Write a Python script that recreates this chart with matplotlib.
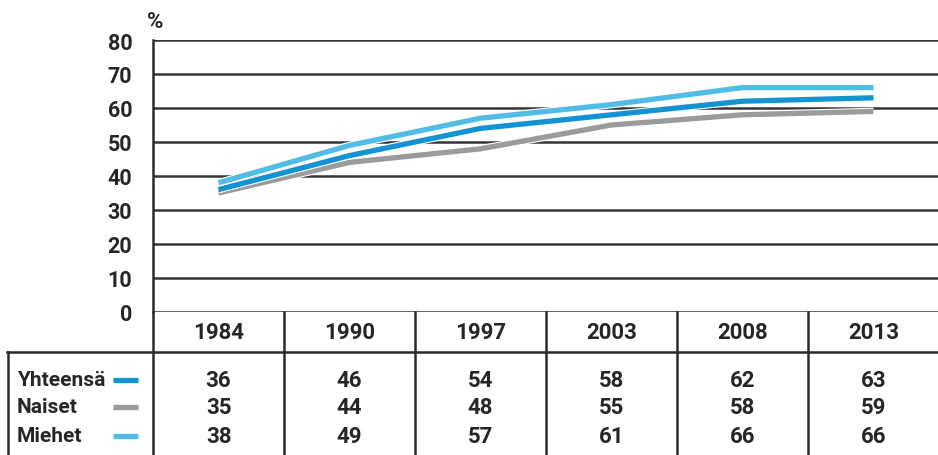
import matplotlib
matplotlib.use("Agg")
import matplotlib.pyplot as plt
import matplotlib.patheffects as pe
import numpy as np

plt.rcParams["font.family"] = ["Roboto", "DejaVu Sans"]

years = ["1984", "1990", "1997", "2003", "2008", "2013"]
series_names = ["Yhteensä", "Naiset", "Miehet"]
yhteensa = [36, 46, 54, 58, 62, 63]
naiset = [35, 44, 48, 55, 58, 59]
miehet = [38, 49, 57, 61, 66, 66]
series_values = [yhteensa, naiset, miehet]
colors = ["#1493d2", "#9b9b9b", "#4fbde6"]
y_ticks = [0, 10, 20, 30, 40, 50, 60, 70, 80]

W, H = 938, 456
fig = plt.figure(figsize=(W / 100, H / 100), dpi=100)
FW = "bold"
TC = "#262626"

# plot area in pixels
left_px, right_px, top_px, bottom_px = 153, 939, 41, 313
ax = fig.add_axes([left_px / W, 1 - bottom_px / H,
                   (right_px - left_px) / W, (bottom_px - top_px) / H])
x = np.arange(len(years))
ax.set_xlim(-0.5, len(years) - 0.5)
ax.set_ylim(0, 80)
ax.set_yticks(y_ticks)
ax.set_yticklabels([str(v) for v in y_ticks], fontsize=15.5, fontweight=FW, color=TC)
ax.tick_params(axis="y", length=0, pad=15)
ax.set_xticks([])
for s in ["top", "right", "bottom"]:
    ax.spines[s].set_visible(False)
ax.spines["left"].set_linewidth(1.8)
ax.spines["left"].set_color("#2a2a2a")
for v in y_ticks:
    ax.axhline(v, color="#353535", lw=1.8, zorder=1)

# draw in order: naiset (back), yhteensa, miehet
for idx in [1, 0, 2]:
    ax.plot(x, series_values[idx], color=colors[idx], lw=3.8, zorder=3,
            solid_capstyle="butt",
            path_effects=[pe.Stroke(linewidth=5.4, foreground="white"), pe.Normal()])

fig.text((left_px - 6) / W, 1 - 22 / H, "%", fontsize=16, fontweight=FW,
         color=TC, ha="left", va="center")

# data table below the plot
tab_left = 7
tab = fig.add_axes([tab_left / W, 0, (right_px - tab_left) / W, (H - bottom_px) / H])
col_w = (right_px - left_px) / len(years)
tab.set_xlim(-0.5 - (left_px - tab_left) / col_w, len(years) - 0.5)
tab.set_ylim(0, H - bottom_px)
tab.axis("off")

header_bottom = H - 353
row_centers = [H - 381, H - 408, H - 437]
lc = "#2a2a2a"
lw = 1.8

# horizontal line below header
tab.plot([tab.get_xlim()[0], len(years) - 0.5], [header_bottom, header_bottom],
         color=lc, lw=lw, clip_on=False)
# left border of the label box
tab.plot([tab.get_xlim()[0] + 0.01, tab.get_xlim()[0] + 0.01], [0, header_bottom],
         color=lc, lw=lw, clip_on=False)
# column dividers
for i in range(len(years)):
    tab.plot([i - 0.5, i - 0.5], [0, H - bottom_px], color=lc, lw=lw, clip_on=False)

header_center = (H - bottom_px + header_bottom) / 2
for i, yr in enumerate(years):
    tab.text(i, header_center, yr, ha="center", va="center", fontsize=16,
             fontweight=FW, color=TC)
    for r, vals in enumerate(series_values):
        tab.text(i, row_centers[r], str(vals[i]), ha="center", va="center",
                 fontsize=16, fontweight=FW, color=TC)

label_x0 = tab.get_xlim()[0] + 10 / col_w
sw0 = tab.get_xlim()[0] + 106 / col_w
sw1 = tab.get_xlim()[0] + 131 / col_w
for r, name in enumerate(series_names):
    tab.text(label_x0, row_centers[r], name, ha="left", va="center", fontsize=15,
             fontweight=FW, color=TC)
    tab.plot([sw0, sw1], [row_centers[r], row_centers[r]], color=colors[r], lw=3.8,
             solid_capstyle="butt")

fig.savefig("out.png", dpi=100)
